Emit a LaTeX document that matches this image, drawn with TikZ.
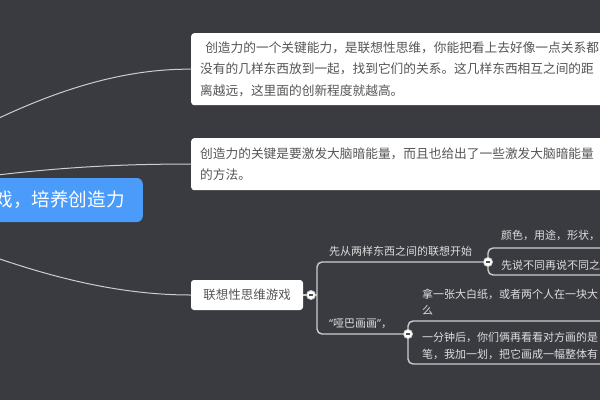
\documentclass[tikz,border=0pt]{standalone}
\usepackage{fontspec}
\newfontfamily\cjk{Noto Sans CJK SC}
\newfontfamily\quotefont{Noto Sans}
\usetikzlibrary{positioning, calc, backgrounds}
\definecolor{canvas}{RGB}{57,59,64}
\definecolor{rootblue}{RGB}{74,155,250}
\definecolor{linkgray}{RGB}{205,205,205}
\definecolor{boxtext}{RGB}{85,85,85}
\definecolor{leaftext}{RGB}{222,222,222}

\begin{document}
\begin{tikzpicture}[
        x=1pt, y=-1pt,
        rootbox/.style={rectangle, fill=rootblue, text=white, rounded corners=6pt, font=\cjk\fontsize{18.6}{22}\selectfont, text width=260pt, align=right, inner xsep=18pt, minimum height=44pt, anchor=east},
        notebox/.style={rectangle, fill=white, text=boxtext, rounded corners=3pt, font=\cjk\fontsize{12.7}{21.5}\selectfont, text width=440pt, align=left, inner xsep=9pt, anchor=north west},
        topicbox/.style={rectangle, fill=white, text=boxtext, rounded corners=3pt, font=\cjk\fontsize{12.5}{15}\selectfont, minimum width=112pt, minimum height=30pt},
        leaf/.style={text=leaftext, font=\cjk\fontsize{11}{16.5}\selectfont, anchor=west, inner sep=0pt, align=left},
        fold/.style={circle, fill=white, draw=linkgray, line width=0.8pt, minimum size=9pt, inner sep=0pt,
            path picture={\draw[black!70, line width=1.2pt] ($(path picture bounding box.west)+(2.5pt,0)$) -- ($(path picture bounding box.east)+(-2.5pt,0)$);}},
        curve/.style={draw=linkgray, line width=1pt},
        link/.style={draw=linkgray, line width=1.4pt, rounded corners=5pt}
    ]
        \useasboundingbox (0,0) rectangle (600,400);

        % Nodes
        \node[rootbox] (root) at (143,200) {戏，培养创造力};
        \node[notebox, minimum height=72pt] (note1) at (191,33) {\hspace*{0.4em}创造力的一个关键能力，是联想性思维，你能把看上去好像一点关系都\\没有的几样东西放到一起，找到它们的关系。这几样东西相互之间的距\\离越远，这里面的创新程度就越高。};
        \node[notebox, minimum height=52pt] (note2) at (191,138) {创造力的关键是要激发大脑暗能量，而且也给出了一些激发大脑暗能量\\的方法。};
        \node[topicbox] (game) at (247,295) {联想性思维游戏};

        \node[fold] (fold1) at (311,295) {};
        \node[fold] (fold2) at (488,262) {};
        \node[fold] (fold3) at (408,334) {};

        \node[leaf] (pair) at (329,251) {先从两样东西之间的联想开始};
        \node[leaf] (mute) at (329,324) {{\quotefont “}哑巴画画{\quotefont ”}，};
        \node[leaf] (color) at (501,235) {颜色，用途，形状，};
        \node[leaf] (diff) at (501,265) {先说不同再说不同之};
        \node[leaf] (paper) at (422,302) {拿一张大白纸，或者两个人在一块大\\么};
        \node[leaf] (minute) at (422,346) {一分钟后，你们俩再看看对方画的是\\笔，我加一划，把它画成一幅整体有};

        \coordinate (spine) at (317,295);
        \coordinate (pairtop) at (488,248);
        \coordinate (pairbot) at (488,275);
        \coordinate (pairtopend) at (620,248);
        \coordinate (pairbotend) at (620,275);
        \coordinate (mutetop) at (408,321);
        \coordinate (mutebot) at (408,364);
        \coordinate (mutetopend) at (620,321);
        \coordinate (mutebotend) at (620,364);

        % Connectors
        \begin{scope}[on background layer]
            \fill[canvas] (0,0) rectangle (600,400);
            \draw[curve] (root.west) .. controls (-60,150) and (60,68) .. (note1.west);
            \draw[curve] (root.west) .. controls (-60,180) and (60,163) .. (note2.west);
            \draw[curve] (root.west) .. controls (-60,235) and (60,295) .. (game.west);
            \draw[link] (game.east) -- (fold1.west);
            \draw[link] (fold1.east) -- (spine);
            \draw[link] (fold2.west) -| (spine) |- (fold3.west);
            \draw[link] (pairtopend) -- (pairtop) -- (pairbot) -- (pairbotend);
            \draw[link] (mutetopend) -- (mutetop) -- (mutebot) -- (mutebotend);
        \end{scope}
    \end{tikzpicture}
\end{document}
